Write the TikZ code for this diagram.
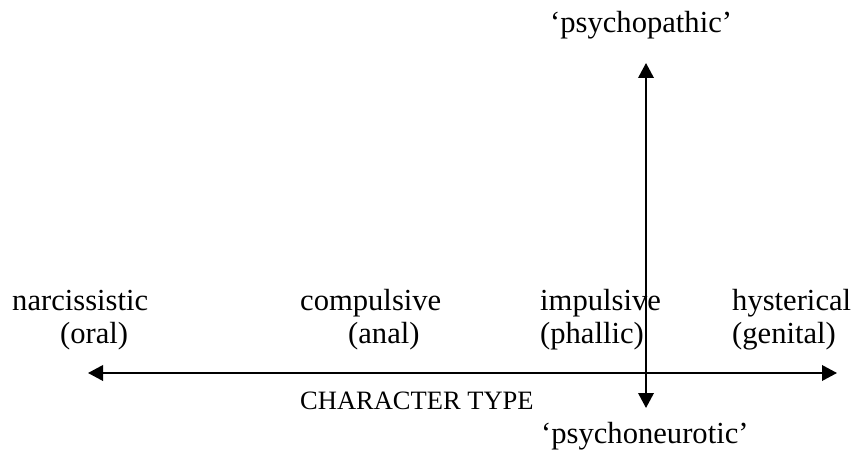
\documentclass[tikz,border=0pt]{standalone}
\usepackage{fontspec}
\setmainfont{Liberation Serif}
\usetikzlibrary{arrows.meta}
\begin{document}
\begin{tikzpicture}[x=1pt,y=-1pt,
  lbl/.style={anchor=base west,inner sep=0pt,font=\fontsize{30.6}{34}\selectfont},
  small/.style={anchor=base west,inner sep=0pt,font=\fontsize{26.5}{30}\selectfont},
  axis/.style={line width=2pt,-{Triangle[length=15pt,width=15.5pt]}}]
  \useasboundingbox (0,0) rectangle (854,454);

  % horizontal character-type axis
  \coordinate (hl) at (88,373);
  \coordinate (hr) at (837,373);
  \draw[axis,{Triangle[length=15pt,width=15.5pt]}-{Triangle[length=15pt,width=15.5pt]}] (hl) -- (hr);

  % vertical axis
  \coordinate (vt) at (646,63);
  \coordinate (vb) at (646,408);
  \draw[axis,{Triangle[length=15pt,width=15.5pt]}-{Triangle[length=15pt,width=15.5pt]}] (vb) -- (vt);

  % character types along the axis
  \node[lbl] (narc) at (12,311) {narcissistic};
  \node[lbl] (oral) at (60,344) {(oral)};
  \node[lbl] (comp) at (300,311) {compulsive};
  \node[lbl] (anal) at (348,344) {(anal)};
  \node[lbl] (imp)  at (540,311) {impulsive};
  \node[lbl] (phal) at (540,344) {(phallic)};
  \node[lbl] (hyst) at (732,311) {hysterical};
  \node[lbl] (gen)  at (732,344) {(genital)};

  % axis titles
  \node[small] (ctype) at (300,409) {CHARACTER TYPE};
  \node[lbl] (path) at (550,33) {‘psychopathic’};
  \node[lbl] (neur) at (541,443) {‘psychoneurotic’};
\end{tikzpicture}
\end{document}
